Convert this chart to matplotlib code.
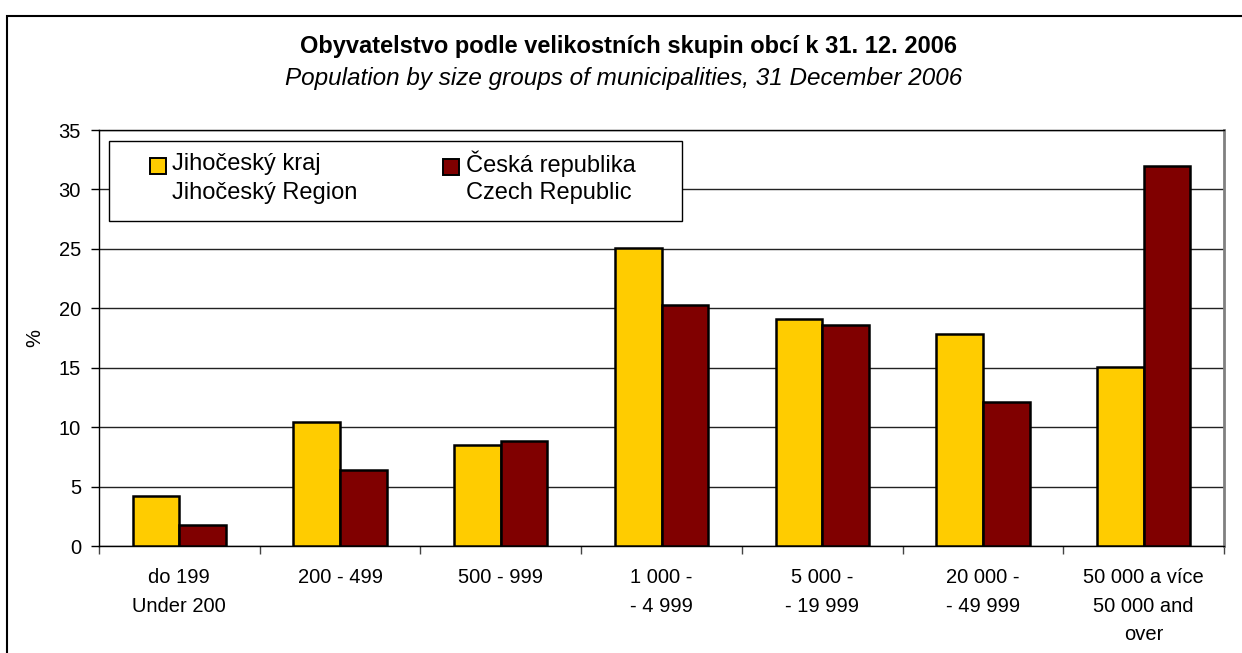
import numpy as np
import matplotlib
matplotlib.use('Agg')
import matplotlib.pyplot as plt
from matplotlib.patches import Rectangle

# data (% of population)
categories = ['do 199\nUnder 200', '200 - 499', '500 - 999', '1 000 -\n- 4 999',
              '5 000 -\n- 19 999', '20 000 -\n- 49 999', '50 000 a více\n50 000 and\nover']
region_vals = [4.2, 10.4, 8.5, 25.1, 19.1, 17.8, 15.1]
czech_vals = [1.8, 6.4, 8.8, 20.3, 18.6, 12.1, 32.0]
yticks = [0, 5, 10, 15, 20, 25, 30, 35]

YELLOW = '#FFCC00'
DARKRED = '#800000'

W, H = 1242, 653
plt.rcParams['font.family'] = ['Liberation Sans', 'DejaVu Sans']

fig = plt.figure(figsize=(W / 100, H / 100), dpi=100)


def fx(px):
    return px / W


def fy(py):
    return 1 - py / H


# outer chart frame
fig.patches.append(Rectangle((fx(7), -0.05), 1.1, fy(16) + 0.05, transform=fig.transFigure,
                             fill=False, edgecolor='black', linewidth=1.5, zorder=0))

ax = fig.add_axes([fx(99), fy(546), fx(1224) - fx(99), fy(130) - fy(546)])

x = np.arange(len(categories))
bw = 0.29
ax.bar(x - bw / 2, region_vals, bw, color=YELLOW, edgecolor='black', linewidth=1.8, zorder=3)
ax.bar(x + bw / 2, czech_vals, bw, color=DARKRED, edgecolor='black', linewidth=1.8, zorder=3)

ax.set_xlim(-0.5, len(categories) - 0.5)
ax.set_ylim(0, 35)
ax.set_yticks(yticks)
ax.set_yticklabels([str(t) for t in yticks], fontsize=14.5)
ax.yaxis.grid(True, color='#222222', linewidth=1.0, zorder=0)
ax.set_axisbelow(True)

ax.set_xticks(x)
ax.set_xticklabels(categories, fontsize=14.5, linespacing=1.62, va='top')
ax.tick_params(axis='x', length=0, pad=16)
ax.set_xticks(np.arange(len(categories) + 1) - 0.5, minor=True)
ax.tick_params(axis='x', which='minor', length=6, width=1, direction='out', color='#444444')
ax.tick_params(axis='y', length=6, width=1, direction='out', pad=7)

for side in ['left', 'bottom', 'top']:
    ax.spines[side].set_color('black')
    ax.spines[side].set_linewidth(1.0)
ax.spines['right'].set_color('#808080')
ax.spines['right'].set_linewidth(2.0)

ax.set_ylabel('%', fontsize=14.5, labelpad=10)

# titles
fig.text(fx(628), fy(47), 'Obyvatelstvo podle velikostních skupin obcí k 31. 12. 2006',
         ha='center', va='center', fontsize=17, fontweight='bold')
fig.text(fx(624), fy(78), 'Population by size groups of municipalities, 31 December 2006',
         ha='center', va='center', fontsize=17.5, style='italic')

# legend box
fig.patches.append(Rectangle((fx(109), fy(221)), fx(682) - fx(109), fy(141) - fy(221),
                             transform=fig.transFigure, facecolor='white', edgecolor='black',
                             linewidth=1.0, zorder=5))
fig.patches.append(Rectangle((fx(150), fy(174)), fx(16), fy(158) - fy(174),
                             transform=fig.transFigure, facecolor=YELLOW, edgecolor='black',
                             linewidth=1.4, zorder=6))
fig.patches.append(Rectangle((fx(443), fy(175)), fx(16), fy(159) - fy(175),
                             transform=fig.transFigure, facecolor=DARKRED, edgecolor='black',
                             linewidth=1.4, zorder=6))
fig.text(fx(172), fy(164), 'Jihočeský kraj', ha='left', va='center', fontsize=17, zorder=7)
fig.text(fx(172), fy(193), 'Jihočeský Region', ha='left', va='center', fontsize=17, zorder=7)
fig.text(fx(466), fy(164), 'Česká republika', ha='left', va='center', fontsize=17, zorder=7)
fig.text(fx(466), fy(193), 'Czech Republic', ha='left', va='center', fontsize=17, zorder=7)

fig.savefig('out.png', dpi=100)
